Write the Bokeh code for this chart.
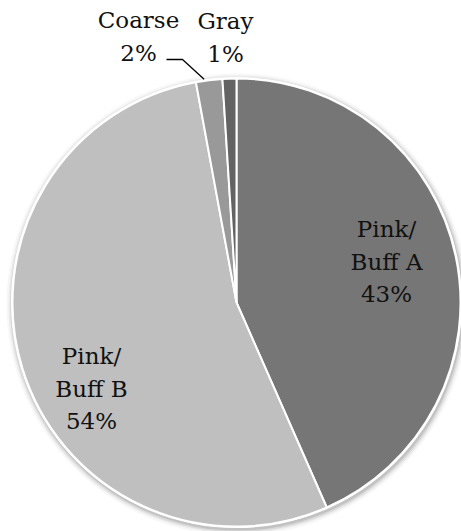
import math
from bokeh.plotting import figure
from bokeh.models import ColumnDataSource, Range1d
from bokeh.core.properties import value
from bokeh.embed import file_html
from bokeh.resources import INLINE

# ---- data ----
categories = ["Pink/Buff A", "Pink/Buff B", "Coarse", "Gray"]
label_names = ["Pink/\nBuff A", "Pink/\nBuff B", "Coarse", "Gray"]
shares = [43.4, 53.7, 1.9, 1.0]
colors = ["#767676", "#bfbfbf", "#999999", "#636363"]

# ---- layout (pixel-like coordinates, y up) ----
W, H = 461, 531
def Y(py):               # convert screen y to data y
    return H - py

cx, cy, R = 236, Y(302), 224

total = sum(shares)
starts, ends, mids = [], [], []
cum = 0.0
for s in shares:
    a0 = math.pi / 2 - 2 * math.pi * cum / total
    cum += s
    a1 = math.pi / 2 - 2 * math.pi * cum / total
    starts.append(a0)
    ends.append(a1)
    mids.append((a0 + a1) / 2)

src = ColumnDataSource(dict(cat=categories, start=starts, end=ends, color=colors))

p = figure(width=W, height=H, output_backend="svg", toolbar_location=None,
           x_range=Range1d(0, W), y_range=Range1d(0, H),
           min_border=0)
p.axis.visible = False
p.grid.visible = False
p.outline_line_color = None
p.background_fill_color = "white"
p.border_fill_color = "white"

# soft shadow
for k, a in [(7, 0.03), (5, 0.05), (3.5, 0.07), (2, 0.10)]:
    p.circle(x=cx + 1, y=cy - 2, radius=R + k, fill_color="black", fill_alpha=a,
             line_color=None)
# white rim
p.circle(x=cx, y=cy, radius=R + 1.5, fill_color="white", line_color=None)

p.wedge(x=cx, y=cy, radius=R, start_angle="start", end_angle="end",
        direction="clock", fill_color="color", line_color="white",
        line_width=2, source=src)

# labels
pct = [f"{round(s)}%" for s in shares]
texts = [f"{n}\n{q}" for n, q in zip(label_names, pct)]
lab_x = [386, 91, 138, 225]
lab_y = [Y(261), Y(388), Y(36), Y(37)]
p.text(x=lab_x, y=lab_y, text=texts, text_align="center", text_baseline="middle",
       text_font=value("DejaVu Serif"), text_font_size="23px",
       text_line_height=1.25, text_color="#111111")

# leader line for Coarse
m = mids[2]
ex, ey = cx + R * math.cos(m) - 5, cy + R * math.sin(m) + 1
p.line(x=[166, 182, ex], y=[Y(59), Y(59), ey], line_color="black", line_width=1.3)

open("out.html", "w").write(file_html(p, INLINE))
